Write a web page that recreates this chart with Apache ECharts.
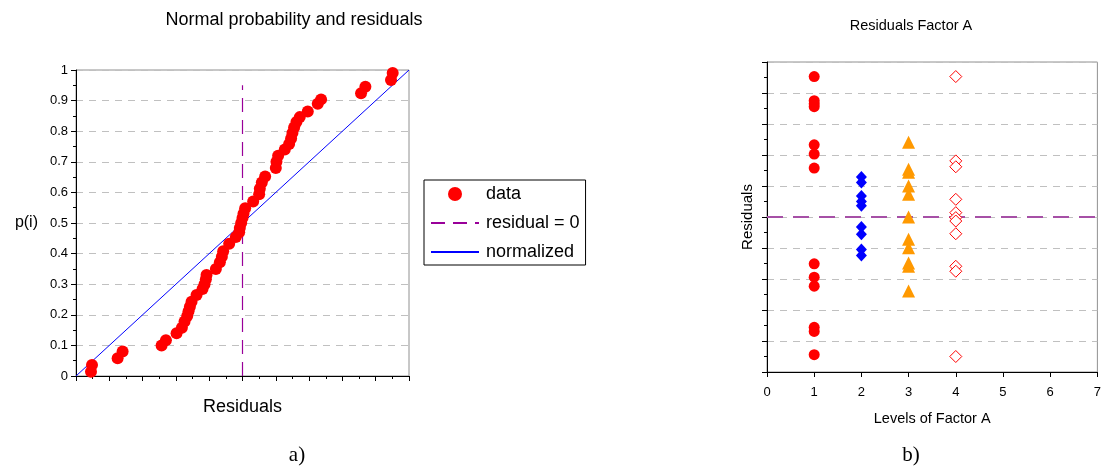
<!DOCTYPE html>
<html>
<head>
<meta charset="utf-8">
<script src="https://cdn.jsdelivr.net/npm/echarts@6/dist/echarts.min.js"></script>
<style>
html,body{margin:0;padding:0;background:#fff;}
#c{width:1104px;height:473px;}
</style>
</head>
<body>
<div id="c"></div>
<script>
// ---- Chart a) : normal probability plot of residuals ----
const residualsA = [-4.55,-4.52,-3.75,-3.60,-2.43,-2.30,-1.98,-1.82,-1.74,-1.66,-1.62,-1.58,-1.53,-1.38,-1.20,-1.14,-1.10,-1.08,-0.80,-0.68,-0.62,-0.58,-0.40,-0.20,-0.10,-0.08,-0.04,0.00,0.03,0.08,0.32,0.50,0.52,0.58,0.68,1.00,1.02,1.07,1.27,1.40,1.46,1.50,1.55,1.62,1.72,1.96,2.26,2.36,3.56,3.69,4.46,4.51];
const probA = [0.014,0.036,0.058,0.080,0.100,0.117,0.140,0.158,0.178,0.196,0.212,0.226,0.243,0.265,0.284,0.300,0.316,0.330,0.350,0.372,0.390,0.408,0.432,0.454,0.470,0.484,0.500,0.516,0.530,0.548,0.570,0.594,0.612,0.632,0.652,0.680,0.700,0.720,0.740,0.758,0.776,0.794,0.812,0.830,0.846,0.864,0.890,0.904,0.924,0.945,0.967,0.990];
const normalizedLine = [[-5,0],[5,1]];
const zeroLineA = [[0,0],[0,0.95]];
const yTicksA = [0,0.1,0.2,0.3,0.4,0.5,0.6,0.7,0.8,0.9,1];

// ---- Chart b) : residuals by level of factor A ----
const levelsX = [0,1,2,3,4,5,6,7];
const level1Res = [4.53,3.75,3.65,3.56,2.33,2.03,1.58,-1.51,-1.94,-2.23,-3.56,-3.69,-4.44];
const level2Res = [1.29,1.11,0.68,0.50,0.36,-0.32,-0.56,-1.05,-1.24];
const level3Res = [2.41,1.54,1.44,1.00,0.73,0.00,-0.72,-0.99,-1.48,-1.59,-2.39];
const level4Res = [4.53,1.81,1.62,0.57,0.14,-0.02,-0.13,-0.54,-1.59,-1.75,-4.50];
const zeroLineB = [[0,0],[7,0]];

const pts = (lvl, arr) => arr.map(v => [lvl, v]);

const FONT = 'Liberation Sans, Arial, sans-serif';
const axisBase = {
  axisLine:{show:true, onZero:false, lineStyle:{color:'#000', width:1}},
  axisTick:{show:true, inside:false, length:5, lineStyle:{color:'#000'}},
  minorTick:{show:true, splitNumber:2, length:3, lineStyle:{color:'#000'}},
  axisLabel:{color:'#000', fontFamily:FONT},
  splitLine:{show:false}
};
const gridSplit = {show:true, lineStyle:{color:'#c0c0c0', type:[7,6], width:1}};

const chart = echarts.init(document.getElementById('c'), null, {renderer:'canvas'});
chart.setOption({
  animation:false,
  backgroundColor:'#fff',
  textStyle:{fontFamily:FONT},
  title:[
    {text:'Normal probability and residuals', left:289, top:6, textAlign:'center',
     textStyle:{fontSize:18, fontWeight:'normal', color:'#000', fontFamily:FONT}},
    {text:'Residuals Factor A', left:906, top:13, textAlign:'center',
     textStyle:{fontSize:14.5, fontWeight:'normal', color:'#000', fontFamily:FONT}},
    {text:'a)', left:292, top:440, textAlign:'center',
     textStyle:{fontSize:21, fontWeight:'normal', color:'#000', fontFamily:'Liberation Serif, Times New Roman, serif'}},
    {text:'b)', left:906, top:440, textAlign:'center',
     textStyle:{fontSize:21, fontWeight:'normal', color:'#000', fontFamily:'Liberation Serif, Times New Roman, serif'}}
  ],
  legend:{
    data:[
      {name:'data', icon:'circle', itemStyle:{color:'#ff0000'}},
      {name:'residual = 0', itemStyle:{opacity:0}},
      {name:'normalized', itemStyle:{opacity:0}}
    ],
    orient:'vertical', left:424, top:180,
    itemWidth:48, itemHeight:14, itemGap:11,
    padding:[5,6,4,6],
    borderColor:'#000', borderWidth:1,
    textStyle:{fontSize:18, lineHeight:18, color:'#000', fontFamily:FONT, padding:[0,0,0,2]},
    selectedMode:false
  },
  grid:[
    {left:76, top:70, width:333, height:306, show:true, borderColor:'#909090', borderWidth:1, containLabel:false},
    {left:767, top:62, width:333, height:310, show:true, borderColor:'#909090', borderWidth:1, containLabel:false}
  ],
  xAxis:[
    Object.assign({}, axisBase, {
      gridIndex:0, type:'value', min:-5, max:5, interval:1,
      axisLabel:{show:false},
      name:'Residuals', nameLocation:'middle', nameGap:22,
      nameTextStyle:{fontSize:18, color:'#000', fontFamily:FONT}
    }),
    Object.assign({}, axisBase, {
      gridIndex:1, type:'value', min:levelsX[0], max:levelsX[levelsX.length-1], interval:1,
      minorTick:{show:false},
      axisLabel:{color:'#000', fontSize:13, margin:14, fontFamily:FONT},
      name:'Levels of Factor A', nameLocation:'middle', nameGap:39,
      nameTextStyle:{fontSize:14.5, color:'#000', fontFamily:FONT}
    })
  ],
  yAxis:[
    Object.assign({}, axisBase, {
      gridIndex:0, type:'value', min:yTicksA[0], max:yTicksA[yTicksA.length-1], interval:0.1,
      axisLabel:{color:'#000', fontSize:13, margin:8, fontFamily:FONT},
      splitLine:gridSplit,
      name:'p(i)', nameLocation:'middle', nameRotate:0, nameGap:38,
      nameTextStyle:{fontSize:16, color:'#000', fontFamily:FONT, align:'right'}
    }),
    Object.assign({}, axisBase, {
      gridIndex:1, type:'value', min:-5, max:5, interval:1,
      axisLabel:{show:false},
      splitLine:gridSplit,
      name:'Residuals', nameLocation:'middle', nameGap:12,
      nameTextStyle:{fontSize:15, color:'#000', fontFamily:FONT}
    })
  ],
  series:[
    {name:'normalized', type:'line', xAxisIndex:0, yAxisIndex:0, data:normalizedLine,
     symbol:'none', lineStyle:{color:'#0000ff', width:1}, itemStyle:{color:'#0000ff'}, z:3},
    {name:'residual = 0', type:'line', xAxisIndex:0, yAxisIndex:0, data:zeroLineA,
     symbol:'none', lineStyle:{color:'#990099', width:1.2, type:[14,8]}, itemStyle:{color:'#990099'}, z:2},
    {name:'data', type:'scatter', xAxisIndex:0, yAxisIndex:0,
     data:residualsA.map((x,i)=>[x, probA[i]]),
     symbol:'circle', symbolSize:12, itemStyle:{color:'#ff0000', opacity:1}, clip:false, z:4},

    {name:'zeroB', type:'line', xAxisIndex:1, yAxisIndex:1, data:zeroLineB,
     symbol:'none', lineStyle:{color:'#a650a6', width:2, type:[16,10]}, z:2},
    {name:'level 1', type:'scatter', xAxisIndex:1, yAxisIndex:1, data:pts(1, level1Res),
     symbol:'circle', symbolSize:11, itemStyle:{color:'#ff0000', opacity:1}, z:4},
    {name:'level 2', type:'scatter', xAxisIndex:1, yAxisIndex:1, data:pts(2, level2Res),
     symbol:'diamond', symbolSize:[11,12], itemStyle:{color:'#0000ff', opacity:1}, z:4},
    {name:'level 3', type:'scatter', xAxisIndex:1, yAxisIndex:1, data:pts(3, level3Res),
     symbol:'triangle', symbolSize:13, itemStyle:{color:'#ff9900', opacity:1}, z:4},
    {name:'level 4', type:'scatter', xAxisIndex:1, yAxisIndex:1, data:pts(4, level4Res),
     symbol:'diamond', symbolSize:12, itemStyle:{color:'#ffffff', borderColor:'#ff0000', borderWidth:1, opacity:1}, z:4}
  ]
});
</script>
</body>
</html>
